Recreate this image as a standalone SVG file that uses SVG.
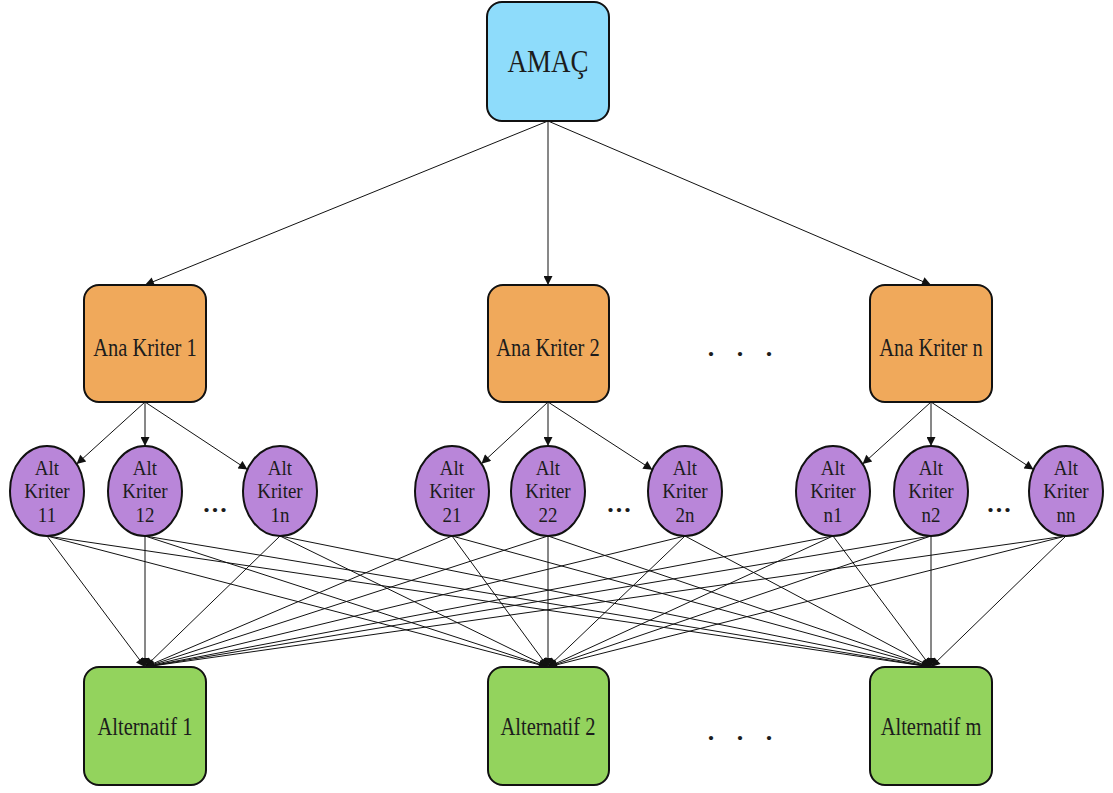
<svg xmlns="http://www.w3.org/2000/svg" width="1113" height="793" viewBox="0 0 1113 793">
<style>
.box{stroke:#111;stroke-width:2}
.goal{fill:#8edcfb}
.main{fill:#f0a95b}
.alt{fill:#93d35d}
.sub{fill:#b986d9;stroke:#111;stroke-width:2}
text{font-family:'Liberation Serif','DejaVu Serif',serif;fill:#1c1c1c;text-anchor:middle}
.t1{font-size:27px}
.t2{font-size:20.5px}
.t3{font-size:19px}
.dots{font-size:26px;font-weight:bold}
.e{stroke:#111;stroke-width:1;fill:none;marker-end:url(#arr)}
</style>
<defs>
<marker id="arr" viewBox="0 0 10 10" refX="10" refY="5" markerWidth="11" markerHeight="9" markerUnits="userSpaceOnUse" orient="auto">
<path d="M0,0 L10,5 L0,10 z" fill="#111"/>
</marker>
</defs>
<rect width="1113" height="793" fill="#fff"/>
<g id="connectors">
<path class="e" d="M548,121 L145,285"/>
<path class="e" d="M548,121 L548,285"/>
<path class="e" d="M548,121 L931,285"/>
<path class="e" d="M145,402 L76.6,464.1"/>
<path class="e" d="M145,402 L145,446"/>
<path class="e" d="M145,402 L247.5,469.6"/>
<path class="e" d="M548,402 L481.4,463.7"/>
<path class="e" d="M548,402 L548,446"/>
<path class="e" d="M548,402 L652.4,469.8"/>
<path class="e" d="M931,402 L862.6,464.1"/>
<path class="e" d="M931,402 L931,446"/>
<path class="e" d="M931,402 L1033.5,469.6"/>
<path class="e" d="M47,536 L145,667"/><path class="e" d="M47,536 L548,667"/><path class="e" d="M47,536 L931,667"/>
<path class="e" d="M145,536 L145,667"/><path class="e" d="M145,536 L548,667"/><path class="e" d="M145,536 L931,667"/>
<path class="e" d="M280,536 L145,667"/><path class="e" d="M280,536 L548,667"/><path class="e" d="M280,536 L931,667"/>
<path class="e" d="M452,536 L145,667"/><path class="e" d="M452,536 L548,667"/><path class="e" d="M452,536 L931,667"/>
<path class="e" d="M548,536 L145,667"/><path class="e" d="M548,536 L548,667"/><path class="e" d="M548,536 L931,667"/>
<path class="e" d="M685,536 L145,667"/><path class="e" d="M685,536 L548,667"/><path class="e" d="M685,536 L931,667"/>
<path class="e" d="M833,536 L145,667"/><path class="e" d="M833,536 L548,667"/><path class="e" d="M833,536 L931,667"/>
<path class="e" d="M931,536 L145,667"/><path class="e" d="M931,536 L548,667"/><path class="e" d="M931,536 L931,667"/>
<path class="e" d="M1066,536 L145,667"/><path class="e" d="M1066,536 L548,667"/><path class="e" d="M1066,536 L931,667"/>
</g>
<g id="amac"><rect class="box goal" x="487" y="2" width="122" height="119" rx="15"/><text class="t1" transform="translate(548,72) scale(1,1.2)">AMAÇ</text></g>
<g id="ana1"><rect class="box main" x="84" y="285" width="122" height="117" rx="15"/><text class="t2" transform="translate(145,356) scale(1,1.2)">Ana Kriter 1</text></g>
<g id="ana2"><rect class="box main" x="488" y="285" width="121" height="117" rx="15"/><text class="t2" transform="translate(548,356) scale(1,1.2)">Ana Kriter 2</text></g>
<g id="anan"><rect class="box main" x="870" y="285" width="122" height="117" rx="15"/><text class="t2" transform="translate(931,356) scale(1,1.2)">Ana Kriter n</text></g>
<g id="dots-ana"><text class="dots" x="744" y="356" letter-spacing="8">. . .</text></g>
<g id="ak11"><ellipse class="sub" cx="47" cy="491" rx="37" ry="45"/><text class="t3" transform="translate(47,475) scale(1,1.12)">Alt</text><text class="t3" transform="translate(47,498) scale(1,1.12)">Kriter</text><text class="t3" transform="translate(47,522) scale(1,1.12)">11</text></g>
<g id="ak12"><ellipse class="sub" cx="145" cy="491" rx="37" ry="45"/><text class="t3" transform="translate(145,475) scale(1,1.12)">Alt</text><text class="t3" transform="translate(145,498) scale(1,1.12)">Kriter</text><text class="t3" transform="translate(145,522) scale(1,1.12)">12</text></g>
<g id="ak1n"><ellipse class="sub" cx="280" cy="491" rx="37" ry="45"/><text class="t3" transform="translate(280,475) scale(1,1.12)">Alt</text><text class="t3" transform="translate(280,498) scale(1,1.12)">Kriter</text><text class="t3" transform="translate(280,522) scale(1,1.12)">1n</text></g>
<g id="ak21"><ellipse class="sub" cx="452" cy="491" rx="37" ry="45"/><text class="t3" transform="translate(452,475) scale(1,1.12)">Alt</text><text class="t3" transform="translate(452,498) scale(1,1.12)">Kriter</text><text class="t3" transform="translate(452,522) scale(1,1.12)">21</text></g>
<g id="ak22"><ellipse class="sub" cx="548" cy="491" rx="37" ry="45"/><text class="t3" transform="translate(548,475) scale(1,1.12)">Alt</text><text class="t3" transform="translate(548,498) scale(1,1.12)">Kriter</text><text class="t3" transform="translate(548,522) scale(1,1.12)">22</text></g>
<g id="ak2n"><ellipse class="sub" cx="685" cy="491" rx="37" ry="45"/><text class="t3" transform="translate(685,475) scale(1,1.12)">Alt</text><text class="t3" transform="translate(685,498) scale(1,1.12)">Kriter</text><text class="t3" transform="translate(685,522) scale(1,1.12)">2n</text></g>
<g id="akn1"><ellipse class="sub" cx="833" cy="491" rx="37" ry="45"/><text class="t3" transform="translate(833,475) scale(1,1.12)">Alt</text><text class="t3" transform="translate(833,498) scale(1,1.12)">Kriter</text><text class="t3" transform="translate(833,522) scale(1,1.12)">n1</text></g>
<g id="akn2"><ellipse class="sub" cx="931" cy="491" rx="37" ry="45"/><text class="t3" transform="translate(931,475) scale(1,1.12)">Alt</text><text class="t3" transform="translate(931,498) scale(1,1.12)">Kriter</text><text class="t3" transform="translate(931,522) scale(1,1.12)">n2</text></g>
<g id="aknn"><ellipse class="sub" cx="1066" cy="491" rx="37" ry="45"/><text class="t3" transform="translate(1066,475) scale(1,1.12)">Alt</text><text class="t3" transform="translate(1066,498) scale(1,1.12)">Kriter</text><text class="t3" transform="translate(1066,522) scale(1,1.12)">nn</text></g>
<g id="dots-sub"><text class="dots" x="216" y="512" letter-spacing="2">...</text><text class="dots" x="620" y="512" letter-spacing="2">...</text><text class="dots" x="1000" y="512" letter-spacing="2">...</text></g>
<g id="alt1"><rect class="box alt" x="84" y="667" width="122" height="118" rx="15"/><text class="t2" transform="translate(145,735) scale(1,1.2)">Alternatif 1</text></g>
<g id="alt2"><rect class="box alt" x="488" y="667" width="121" height="118" rx="15"/><text class="t2" transform="translate(548,735) scale(1,1.2)">Alternatif 2</text></g>
<g id="altm"><rect class="box alt" x="870" y="667" width="122" height="118" rx="15"/><text class="t2" transform="translate(931,735) scale(1,1.2)">Alternatif m</text></g>
<g id="dots-alt"><text class="dots" x="744" y="740" letter-spacing="8">. . .</text></g>
</svg>
